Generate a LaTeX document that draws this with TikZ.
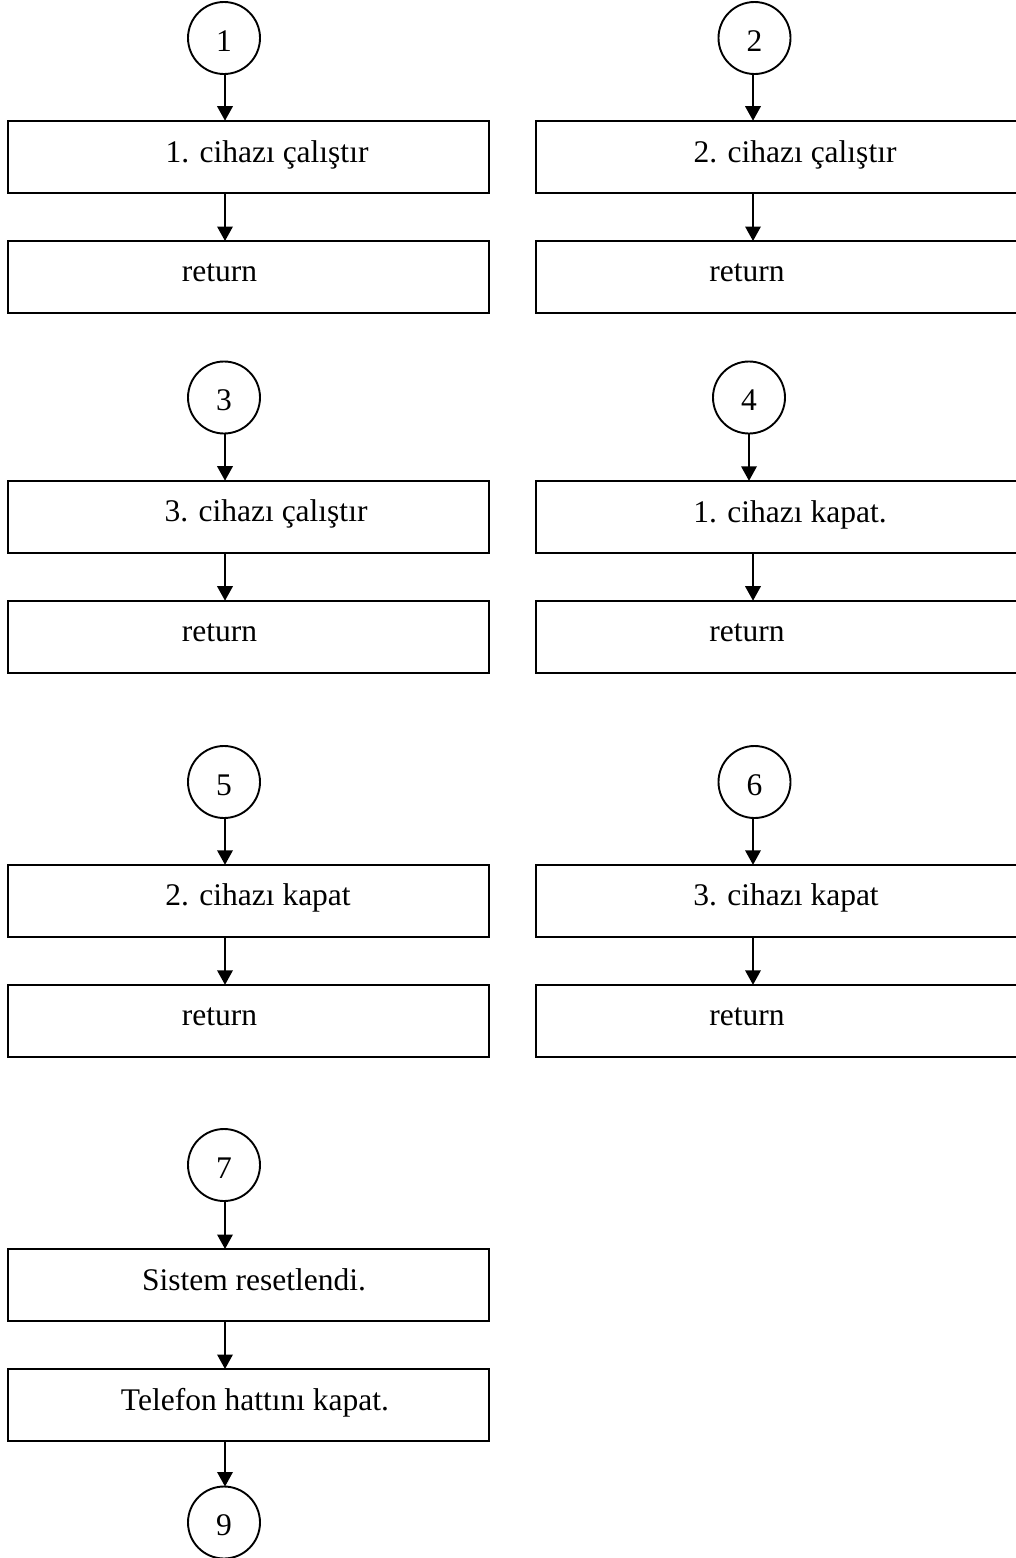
\documentclass[tikz,border=0pt]{standalone}
\usepackage{fontspec}
\setmainfont{Liberation Serif}
\usetikzlibrary{arrows.meta}

\begin{document}
\begin{tikzpicture}[x=1pt,y=-1pt,
  every node/.style={inner sep=0pt,outer sep=0pt},
  stepbox/.style={draw,line width=2pt,rectangle,minimum width=480.7pt,minimum height=72pt},
  rbox/.style={stepbox,minimum width=482pt},
  conn/.style={draw,line width=1.9pt,circle,minimum size=72pt,text height=26pt,text depth=0pt,
    font=\fontsize{31.5}{36}\selectfont},
  txt/.style={anchor=base,font=\fontsize{31.5}{36}\selectfont},
  arr/.style={line width=1.9pt,-{Triangle[length=14.5pt,width=15.5pt]}}]

\useasboundingbox (0,0) rectangle (1015,1558);

% column guide lines for the box-to-box connectors
\coordinate (colL) at (225,0);
\coordinate (colR) at (753,0);

% ---- connector 1 ----
\node[conn] (c1) at (224,38) {1};
\node[stepbox] (b1) at (248.7,156.7) {};
\node[stepbox] (r1) at (248.7,277) {};
\node[txt] (t1) at (267,162.7) {1. cihazı çalıştır};
\node[txt] (tr1) at (219.5,281.7) {return};
\draw[arr] (c1.south -| colL) -- (b1.north -| colL);
\draw[arr] (b1.south -| colL) -- (r1.north -| colL);

% ---- connector 2 ----
\node[conn] (c2) at (754.5,38) {2};
\node[rbox] (b2) at (777,156.7) {};
\node[rbox] (r2) at (777,277) {};
\node[txt] (t2) at (795,162.7) {2. cihazı çalıştır};
\node[txt] (tr2) at (747,281.7) {return};
\draw[arr] (c2.south -| colR) -- (b2.north -| colR);
\draw[arr] (b2.south -| colR) -- (r2.north -| colR);

% ---- connector 3 ----
\node[conn] (c3) at (224,397.5) {3};
\node[stepbox] (b3) at (248.7,516.7) {};
\node[stepbox] (r3) at (248.7,636.7) {};
\node[txt] (t3) at (266,521.7) {3. cihazı çalıştır};
\node[txt] (tr3) at (219.5,641.7) {return};
\draw[arr] (c3.south -| colL) -- (b3.north -| colL);
\draw[arr] (b3.south -| colL) -- (r3.north -| colL);

% ---- connector 4 ----
\node[conn] (c4) at (749,397.5) {4};
\node[rbox] (b4) at (777,516.8) {};
\node[rbox] (r4) at (777,636.7) {};
\node[txt] (t4) at (790,522) {1. cihazı kapat.};
\node[txt] (tr4) at (747,641.7) {return};
\draw[arr] (c4.south) -- (c4.south |- b4.north);
\draw[arr] (b4.south -| colR) -- (r4.north -| colR);

% ---- connector 5 ----
\node[conn] (c5) at (224,782) {5};
\node[stepbox] (b5) at (248.7,900.8) {};
\node[stepbox] (r5) at (248.7,1020.8) {};
\node[txt] (t5) at (258,905.7) {2. cihazı kapat};
\node[txt] (tr5) at (219.5,1025) {return};
\draw[arr] (c5.south -| colL) -- (b5.north -| colL);
\draw[arr] (b5.south -| colL) -- (r5.north -| colL);

% ---- connector 6 ----
\node[conn] (c6) at (754.5,782) {6};
\node[rbox] (b6) at (777,900.8) {};
\node[rbox] (r6) at (777,1020.8) {};
\node[txt] (t6) at (786,905.7) {3. cihazı kapat};
\node[txt] (tr6) at (747,1025) {return};
\draw[arr] (c6.south -| colR) -- (b6.north -| colR);
\draw[arr] (b6.south -| colR) -- (r6.north -| colR);

% ---- connector 7: reset, hang up, go to 9 ----
\node[conn] (c7) at (224,1165) {7};
\node[stepbox] (b7) at (248.7,1285) {};
\node[stepbox] (b8) at (248.7,1405) {};
\node[conn] (c9) at (224,1522.5) {9};
\node[txt] (t7) at (254,1290) {Sistem resetlendi.};
\node[txt] (t8) at (255,1410) {Telefon hattını kapat.};
\draw[arr] (c7.south -| colL) -- (b7.north -| colL);
\draw[arr] (b7.south -| colL) -- (b8.north -| colL);
\draw[arr] (b8.south -| colL) -- (c9.north -| colL);

\end{tikzpicture}
\end{document}
